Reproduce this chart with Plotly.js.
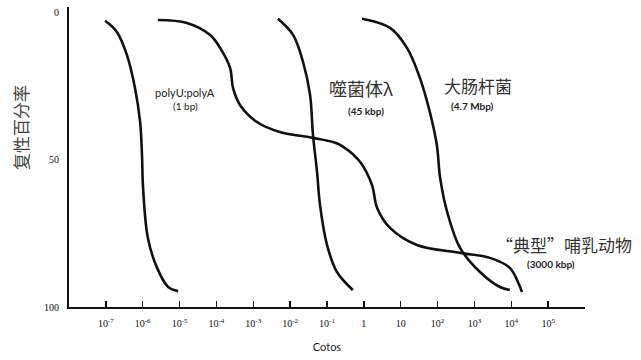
<!DOCTYPE html>
<html>
<head>
<meta charset="utf-8">
<script src="https://cdn.plot.ly/plotly-3.0.1.min.js"></script>
<style>
html,body{margin:0;padding:0;background:#fff;}
#chart{width:641px;height:360px;}
</style>
</head>
<body>
<div id="chart"></div>
<script>
// log10(Cot) values and percent reassociated
const polyLogCot = [-7.02, -6.70, -6.43, -6.21, -6.07, -6.02, -5.99, -5.86, -5.61, -5.31, -5.04];
const polyPct    = [2.7, 6.5, 14.3, 25.5, 37.1, 48.3, 59.5, 76.5, 86.7, 93.2, 94.6];

const mammalLogCot = [-5.59, -4.80, -4.17, -3.90, -3.63, -3.55, -3.36, -2.90, -2.28, -1.38, -0.84, -0.60, -0.10, 0.22, 0.36, 0.71, 1.44, 2.61, 3.42, 3.96, 4.18, 4.29];
const mammalPct    = [2.4, 3.4, 7.5, 11.9, 18.7, 25.5, 31.3, 37.1, 40.5, 42.5, 43.9, 45.2, 50.7, 58.5, 66.3, 73.1, 78.9, 81.6, 83.3, 86.7, 91.5, 94.9];

const lambdaLogCot = [-2.33, -1.92, -1.65, -1.46, -1.38, -1.27, -1.19, -1.00, -0.73, -0.30];
const lambdaPct    = [2.0, 7.5, 16.7, 27.9, 41.5, 54.1, 65.3, 78.9, 88.1, 94.2];

const ecoliLogCot = [-0.05, 0.71, 1.17, 1.52, 1.79, 1.98, 2.07, 2.26, 2.61, 3.15, 3.69, 3.96];
const ecoliPct    = [2.0, 5.1, 11.9, 22.1, 33.7, 44.9, 56.1, 67.7, 79.9, 88.1, 93.2, 94.2];

const xTickVals = [1e-7, 1e-6, 1e-5, 1e-4, 1e-3, 1e-2, 1e-1, 1, 10, 1e2, 1e3, 1e4, 1e5];
const xTickText = ['10<sup>-7</sup>', '10<sup>-6</sup>', '10<sup>-5</sup>', '10<sup>-4</sup>', '10<sup>-3</sup>', '10<sup>-2</sup>', '10<sup>-1</sup>', '1', '10', '10<sup>2</sup>', '10<sup>3</sup>', '10<sup>4</sup>', '10<sup>5</sup>'];
const yTickVals = [0, 50, 100];
const yTickText = ['0', '50', '100'];

const toCot = a => a.map(v => Math.pow(10, v));
const lineStyle = {color: '#111', width: 2.6, shape: 'spline', smoothing: 1};

const traces = [
  {x: toCot(polyLogCot), y: polyPct},
  {x: toCot(mammalLogCot), y: mammalPct},
  {x: toCot(lambdaLogCot), y: lambdaPct},
  {x: toCot(ecoliLogCot), y: ecoliPct}
].map(t => Object.assign(t, {type: 'scatter', mode: 'lines', line: lineStyle, hoverinfo: 'skip'}));

const cjk = '"Noto Sans CJK SC", "Noto Sans", sans-serif';
const lat = 'Lato, "Open Sans", sans-serif';

const annotations = [
  {x: -4.85, y: 26.9, text: 'polyU:polyA', font: {family: lat, size: 11, color: '#222'}},
  {x: -4.85, y: 31.5, text: '(1 bp)', font: {family: lat, size: 10, color: '#222'}},
  {x: -0.08, y: 25.6, text: '噬菌体λ', font: {family: cjk, size: 18, color: '#333'}},
  {x: 0.06, y: 33.5, text: '<b>(45 kbp)</b>', font: {family: lat, size: 10, color: '#222'}},
  {x: 3.10, y: 24.6, text: '大肠杆菌', font: {family: cjk, size: 17, color: '#333'}},
  {x: 2.96, y: 31.6, text: '<b>(4.7 Mbp)</b>', font: {family: lat, size: 10, color: '#222'}},
  {x: 5.43, y: 78.6, text: '“典型”哺乳动物', font: {family: cjk, size: 17, color: '#333'}},
  {x: 5.08, y: 85.4, text: '<b>(3000 kbp)</b>', font: {family: lat, size: 10, color: '#222'}}
].map(a => Object.assign(a, {xref: 'x', yref: 'y', showarrow: false, xanchor: 'center', yanchor: 'middle'}));

annotations.push({
  xref: 'paper', yref: 'paper', x: -0.095, y: 0.6, text: '复性百分率', textangle: -90,
  showarrow: false, xanchor: 'center', yanchor: 'middle',
  font: {family: cjk, size: 17, color: '#444'}
});

const layout = {
  width: 641, height: 360,
  margin: {l: 69, r: 56, t: 7, b: 53},
  paper_bgcolor: '#fff', plot_bgcolor: '#fff',
  showlegend: false,
  xaxis: {
    type: 'log', range: [-8, 6],
    showgrid: false, zeroline: false,
    showline: true, linecolor: '#111', linewidth: 2,
    ticks: 'inside', ticklen: 6, tickwidth: 1.5, tickcolor: '#111',
    tickvals: xTickVals, ticktext: xTickText,
    ticklabelstandoff: 6,
    tickfont: {family: '"Liberation Serif", serif', size: 10, color: '#111'},
    title: {text: 'Cotos', font: {family: lat, size: 11, color: '#222'}, standoff: 15}
  },
  yaxis: {
    range: [100, -2],
    showgrid: false, zeroline: false,
    showline: true, linecolor: '#111', linewidth: 2,
    ticks: '', tickvals: yTickVals, ticktext: yTickText,
    ticklabelstandoff: 6,
    tickfont: {family: '"Liberation Serif", serif', size: 10, color: '#111'}
  },
  annotations: annotations
};

Plotly.newPlot('chart', traces, layout, {displayModeBar: false, staticPlot: true});
</script>
</body>
</html>
